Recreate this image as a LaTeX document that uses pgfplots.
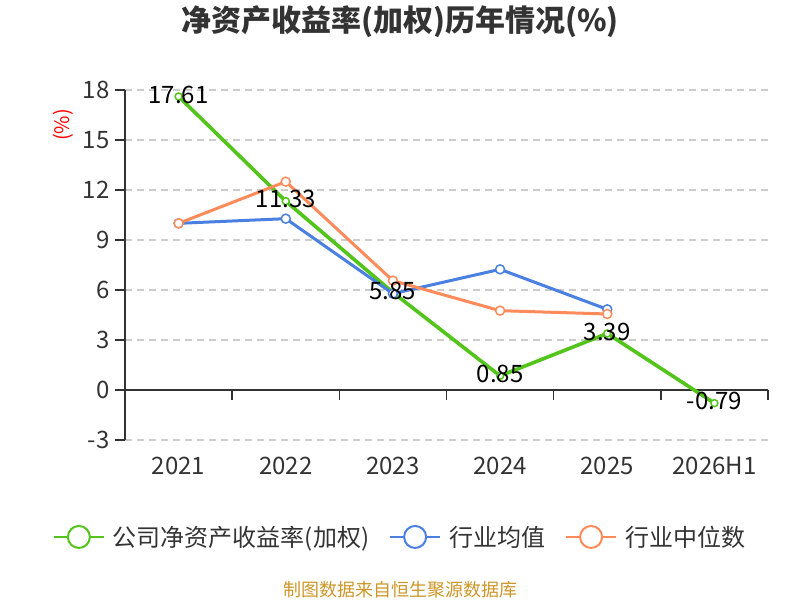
\documentclass[border=0pt]{standalone}
\usepackage{pgfplots}
\pgfplotsset{compat=1.18}
\usepackage{fontspec}
\setmainfont{Noto Sans CJK SC}
\definecolor{cgreen}{RGB}{82,196,26}
\definecolor{cblue}{RGB}{74,128,226}
\definecolor{corange}{RGB}{255,138,90}
\definecolor{ctext}{RGB}{51,51,51}
\definecolor{cgrid}{RGB}{204,204,204}
\definecolor{csrc}{RGB}{204,150,40}
\begin{document}
\begin{tikzpicture}[x=1pt,y=1pt]
\path[use as bounding box] (0,0) rectangle (800,600);
\node[font=\fontsize{30}{34}\selectfont\bfseries, text=ctext] at (400,578) {净资产收益率(加权)历年情况(\%)};
\node[font=\fontsize{20}{22}\selectfont, text=red, rotate=90] at (63,475) {(\%)};
\node[font=\fontsize{18}{20}\selectfont, text=csrc] at (400,10) {制图数据来自恒生聚源数据库};
\begin{axis}[
  at={(125pt,160pt)}, anchor=south west,
  scale only axis, width=643pt, height=350pt,
  xmin=-0.5, xmax=5.5, ymin=-3, ymax=18,
  axis y line=left, axis x line=middle,
  axis line style={-, draw=ctext, line width=1.5pt},
  hide obscured x ticks=false, hide obscured y ticks=false,
  tick align=outside, major tick length=10pt,
  tick style={draw=ctext, line width=1.5pt},
  xtick={0,1,2,3,4,5},
  xticklabels={2021,2022,2023,2024,2025,2026H1},
  xtick style={draw=none},
  extra x ticks={-0.5,0.5,1.5,2.5,3.5,4.5,5.5},
  extra x tick labels={},
  extra x tick style={xtick style={draw=ctext, line width=1.5pt}},
  ytick={-3,0,3,6,9,12,15,18},
  ymajorgrids,
  grid style={dashed, dash pattern=on 7pt off 5pt, draw=cgrid, line width=1.3pt},
  /pgf/number format/assume math mode=true,
  ticklabel style={font=\fontsize{24}{28}\selectfont, text=ctext},
  yticklabel style={xshift=-2pt},
  xticklabel style={anchor=center, yshift=-66pt},
  clip=false,
  legend columns=3,
  legend style={at={(0.4277,-0.277)}, anchor=center, draw=none, fill=none,
    font=\fontsize{24}{28}\selectfont, text=ctext,
    /tikz/every odd column/.append style={column sep=6pt},
    /tikz/every even column/.append style={column sep=18pt}},
  legend image code/.code={
    \draw[line width=2pt] (0pt,0pt) -- (50pt,0pt);
    \draw[line width=2pt, fill=white] (25pt,0pt) circle (11pt);
  },
]
\addplot[cgreen, line width=3.6pt, mark=*, mark size=3.5pt,
  mark options={fill=white, draw=cgreen, line width=1.5pt}]
  coordinates {(0,17.61) (1,11.33) (2,5.85) (3,0.85) (4,3.39) (5,-0.79)};
\addlegendentry{公司净资产收益率(加权)}
\addplot[cblue, line width=3pt, mark=*, mark size=4.5pt,
  mark options={fill=white, draw=cblue, line width=1.5pt}]
  coordinates {(0,10.0) (1,10.28) (2,5.78) (3,7.24) (4,4.84)};
\addlegendentry{行业均值}
\addplot[corange, line width=3pt, mark=*, mark size=4.5pt,
  mark options={fill=white, draw=corange, line width=1.5pt}]
  coordinates {(0,10.0) (1,12.5) (2,6.56) (3,4.76) (4,4.56)};
\addlegendentry{行业中位数}
\addplot[draw=none, mark=none, forget plot,
  point meta=explicit symbolic,
  nodes near coords,
  nodes near coords style={anchor=center, yshift=2pt, font=\fontsize{24}{28}\selectfont, text=black}]
  table[meta=label] {
x y label
0 17.61 17.61
1 11.33 11.33
2 5.85 5.85
3 0.85 0.85
4 3.39 3.39
5 -0.79 -0.79
};
\end{axis}
\end{tikzpicture}
\end{document}
